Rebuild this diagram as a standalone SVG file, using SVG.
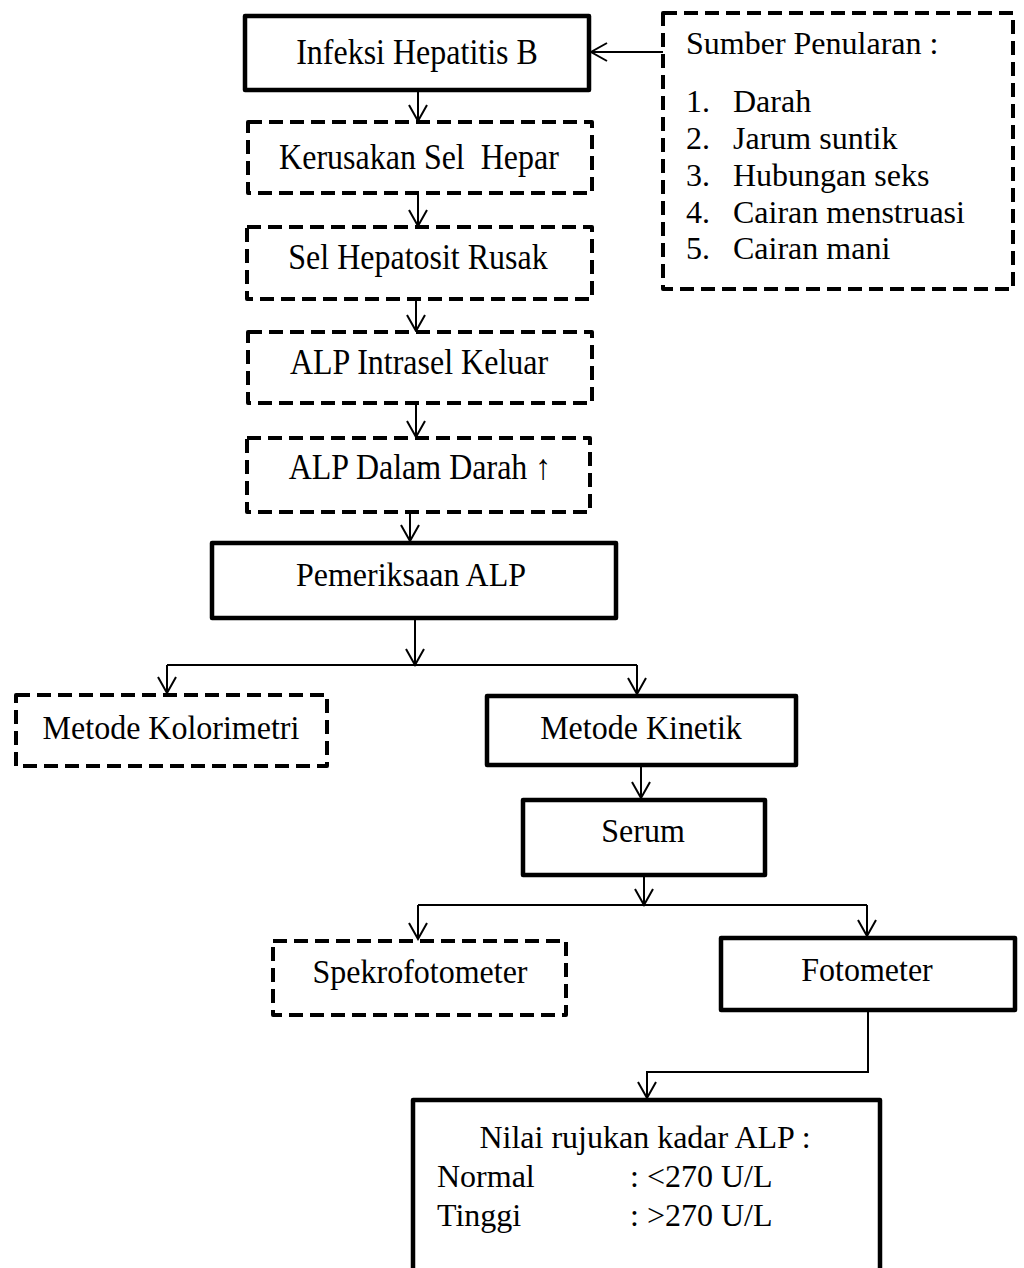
<svg xmlns="http://www.w3.org/2000/svg" width="1024" height="1268" viewBox="0 0 1024 1268">
<style>
.solid{fill:#fff;stroke:#000;stroke-width:4.5;stroke-linejoin:round}
.dash{fill:#fff;stroke:#000;stroke-width:4;stroke-dasharray:14 7;stroke-linejoin:round}
.t{font-family:"Liberation Serif","Times New Roman",serif;font-size:32px;fill:#000}
.c{text-anchor:middle}
.ln{fill:none;stroke:#000;stroke-width:2}
</style>
<defs>
<marker id="ah" markerUnits="userSpaceOnUse" viewBox="-18 -11 20 22" markerWidth="20" markerHeight="22" refX="0" refY="0" orient="auto">
<path d="M-16,-9 L0,0 L-16,9" fill="none" stroke="#000" stroke-width="2"/>
</marker>
</defs>
<rect width="1024" height="1268" fill="#fff"/>
<g id="connectors">
<path class="ln" d="M663,52 H591" marker-end="url(#ah)"/>
<path class="ln" d="M418,92 V121" marker-end="url(#ah)"/>
<path class="ln" d="M418,195 V226" marker-end="url(#ah)"/>
<path class="ln" d="M416,301 V331" marker-end="url(#ah)"/>
<path class="ln" d="M416,405 V437" marker-end="url(#ah)"/>
<path class="ln" d="M410,514 V541" marker-end="url(#ah)"/>
<path class="ln" d="M415,620 V665" marker-end="url(#ah)"/>
<path class="ln" d="M167,665 H637"/>
<path class="ln" d="M167,665 V693" marker-end="url(#ah)"/>
<path class="ln" d="M637,665 V694" marker-end="url(#ah)"/>
<path class="ln" d="M641,767 V798" marker-end="url(#ah)"/>
<path class="ln" d="M644,877 V905" marker-end="url(#ah)"/>
<path class="ln" d="M418,905 H867"/>
<path class="ln" d="M418,905 V939" marker-end="url(#ah)"/>
<path class="ln" d="M867,905 V936" marker-end="url(#ah)"/>
<path class="ln" d="M868,1012 V1072 H647 V1098" marker-end="url(#ah)"/>
</g>
<g id="infeksi">
<rect class="solid" x="245" y="16" width="344" height="74"/>
<text class="t c" transform="translate(417,64) scale(1,1.12)">Infeksi Hepatitis B</text>
</g>
<g id="sumber">
<rect class="dash" x="663" y="13" width="350" height="276"/>
<text class="t" x="686" y="54">Sumber Penularan :</text>
<text class="t" x="686" y="112">1.</text><text class="t" x="733" y="112">Darah</text>
<text class="t" x="686" y="149">2.</text><text class="t" x="733" y="149">Jarum suntik</text>
<text class="t" x="686" y="186">3.</text><text class="t" x="733" y="186">Hubungan seks</text>
<text class="t" x="686" y="223">4.</text><text class="t" x="733" y="223">Cairan menstruasi</text>
<text class="t" x="686" y="259">5.</text><text class="t" x="733" y="259">Cairan mani</text>
</g>
<g id="kerusakan">
<rect class="dash" x="248" y="122" width="344" height="71"/>
<text class="t c" transform="translate(419,169) scale(1,1.12)" xml:space="preserve" style="white-space:pre">Kerusakan Sel  Hepar</text>
</g>
<g id="hepatosit">
<rect class="dash" x="247" y="227" width="345" height="72"/>
<text class="t c" transform="translate(418,269) scale(1,1.12)">Sel Hepatosit Rusak</text>
</g>
<g id="intrasel">
<rect class="dash" x="248" y="332" width="344" height="71"/>
<text class="t c" transform="translate(419,374) scale(1,1.12)">ALP Intrasel Keluar</text>
</g>
<g id="dalamdarah">
<rect class="dash" x="247" y="438" width="343" height="74"/>
<text class="t c" transform="translate(420,479) scale(1,1.12)">ALP Dalam Darah ↑</text>
</g>
<g id="pemeriksaan">
<rect class="solid" x="212" y="543" width="404" height="75"/>
<text class="t c" transform="translate(411,586) scale(1,1.08)">Pemeriksaan ALP</text>
</g>
<g id="kolorimetri">
<rect class="dash" x="16" y="695" width="311" height="71"/>
<text class="t c" transform="translate(171,739) scale(1,1.08)">Metode Kolorimetri</text>
</g>
<g id="kinetik">
<rect class="solid" x="487" y="696" width="309" height="69"/>
<text class="t c" transform="translate(641,739) scale(1,1.08)">Metode Kinetik</text>
</g>
<g id="serum">
<rect class="solid" x="523" y="800" width="242" height="75"/>
<text class="t c" transform="translate(643,842) scale(1,1.08)">Serum</text>
</g>
<g id="spekro">
<rect class="dash" x="273" y="941" width="293" height="74"/>
<text class="t c" transform="translate(420,983) scale(1,1.08)">Spekrofotometer</text>
</g>
<g id="fotometer">
<rect class="solid" x="721" y="938" width="294" height="72"/>
<text class="t c" transform="translate(867,981) scale(1,1.08)">Fotometer</text>
</g>
<g id="nilai">
<rect class="solid" x="413" y="1100" width="467" height="200"/>
<text class="t c" x="645" y="1148">Nilai rujukan kadar ALP :</text>
<text class="t" x="437" y="1187">Normal</text><text class="t" x="630" y="1187">: &lt;270 U/L</text>
<text class="t" x="437" y="1226">Tinggi</text><text class="t" x="630" y="1226">: &gt;270 U/L</text>
</g>
</svg>
